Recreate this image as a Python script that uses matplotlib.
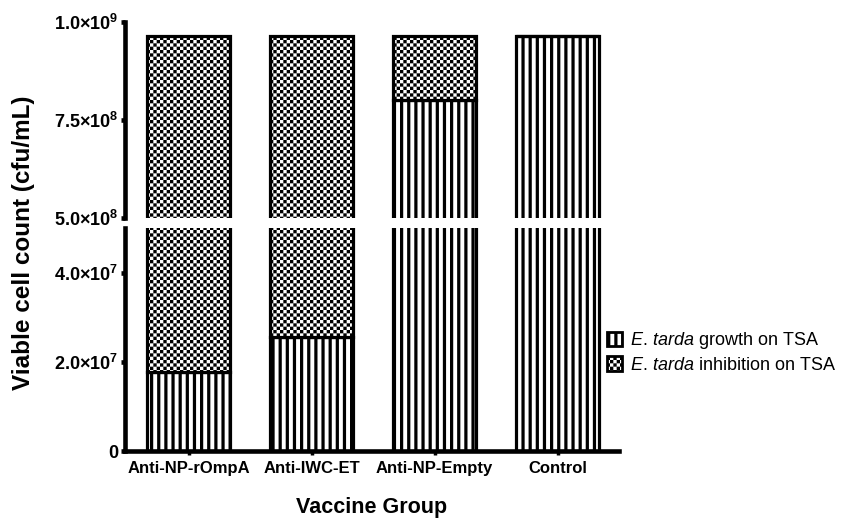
import numpy as np
import matplotlib
matplotlib.use("Agg")
import matplotlib.pyplot as plt
import matplotlib.hatch as mhatch
from matplotlib.path import Path
from matplotlib.patches import Patch

# ---------------- data ----------------
categories = ["Anti-NP-rOmpA", "Anti-IWC-ET", "Anti-NP-Empty", "Control"]
growth = [1.78e7, 2.56e7, 8.0e8, 9.65e8]          # E. tarda growth on TSA
total = [9.65e8, 9.65e8, 9.65e8, 9.65e8]           # stacked bar top
inhibition = [t - g for t, g in zip(total, growth)]  # E. tarda inhibition on TSA
upper_ticks = [5.0e8, 7.5e8, 1.0e9]
upper_labels = ["5.0×10$^{8}$", "7.5×10$^{8}$", "1.0×10$^{9}$"]
lower_ticks = [0, 2.0e7, 4.0e7]
lower_labels = ["0", "2.0×10$^{7}$", "4.0×10$^{7}$"]
series_labels = [r"$\it{E.\,tarda}$ growth on TSA", r"$\it{E.\,tarda}$ inhibition on TSA"]


# ---------------- custom filled hatches ----------------
class StripeHatch(mhatch.HatchPatternBase):
    n = 14
    frac = 0.45

    def __init__(self, hatch, density):
        self.count = hatch.count('|')
        self.num_vertices = 5 * self.n if self.count else 0

    def set_vertices_and_codes(self, vertices, codes):
        k = 0
        for i in range(self.n):
            x0 = i / self.n
            x1 = x0 + self.frac / self.n
            vertices[k:k + 5] = [(x0, -0.01), (x1, -0.01), (x1, 1.01), (x0, 1.01), (x0, -0.01)]
            codes[k:k + 5] = [Path.MOVETO, Path.LINETO, Path.LINETO, Path.LINETO, Path.CLOSEPOLY]
            k += 5


class CheckerHatch(mhatch.HatchPatternBase):
    n = 30

    def __init__(self, hatch, density):
        self.count = hatch.count('+')
        self.num_vertices = 5 * (self.n * self.n // 2) if self.count else 0

    def set_vertices_and_codes(self, vertices, codes):
        k = 0
        c = 1.0 / self.n
        for i in range(self.n):
            for j in range(self.n):
                if (i + j) % 2 == 0:
                    x0, y0 = i * c, j * c
                    vertices[k:k + 5] = [(x0, y0), (x0 + c, y0), (x0 + c, y0 + c), (x0, y0 + c), (x0, y0)]
                    codes[k:k + 5] = [Path.MOVETO, Path.LINETO, Path.LINETO, Path.LINETO, Path.CLOSEPOLY]
                    k += 5


mhatch._hatch_types = [StripeHatch, CheckerHatch]

plt.rcParams['font.family'] = ['Liberation Sans', 'DejaVu Sans']
plt.rcParams['mathtext.fontset'] = 'custom'
plt.rcParams['mathtext.rm'] = 'Liberation Sans'
plt.rcParams['mathtext.it'] = 'Liberation Sans:italic'
plt.rcParams['mathtext.bf'] = 'Liberation Sans:bold'
plt.rcParams['mathtext.default'] = 'regular'
plt.rcParams['hatch.linewidth'] = 0.0
plt.rcParams['hatch.color'] = 'black'

fig = plt.figure(figsize=(8.56, 5.19), dpi=100)
W, H = 856, 519
L, R = 125, 619
ax_top = fig.add_axes([L / W, 1 - 218 / H, (R - L) / W, (218 - 22) / H])
ax_bot = fig.add_axes([L / W, 1 - 451 / H, (R - L) / W, (451 - 228) / H])

x = np.arange(len(categories))
bw = 0.675
for ax in (ax_top, ax_bot):
    ax.bar(x, growth, bw, color='white', edgecolor='black', linewidth=2.3, hatch='|')
    ax.bar(x, inhibition, bw, bottom=growth, color='white', edgecolor='black', linewidth=2.3, hatch='+')
    ax.set_xlim(-0.52, 3.5)
    for s in ('top', 'right'):
        ax.spines[s].set_visible(False)
    ax.spines['left'].set_linewidth(3.3)
    ax.tick_params(axis='y', length=3, width=3.3, pad=2, labelsize=13)
    ax.tick_params(axis='x', length=3, width=2.5, pad=4, labelsize=12)

ax_top.set_ylim(5e8, 1e9)
ax_top.spines['bottom'].set_visible(False)
ax_top.set_xticks([])
ax_top.set_yticks(upper_ticks)
ax_top.set_yticklabels(upper_labels, fontweight='bold')

ax_bot.set_ylim(0, 5e7)
ax_bot.spines['bottom'].set_linewidth(3.3)
ax_bot.set_yticks(lower_ticks)
ax_bot.set_yticklabels(lower_labels, fontweight='bold')
ax_bot.set_xticks(x)
ax_bot.set_xticklabels(categories, fontweight='bold')

fig.text(372 / W, 1 - 507 / H, "Vaccine Group", ha='center', va='center',
         fontsize=15.5, fontweight='bold')
fig.text(24 / W, 1 - 243 / H, "Viable cell count (cfu/mL)", ha='center', va='center',
         rotation=90, fontsize=17.5, fontweight='bold')

handles = [Patch(facecolor='white', edgecolor='black', linewidth=2, hatch='|'),
           Patch(facecolor='white', edgecolor='black', linewidth=2, hatch='+')]
fig.legend(handles, series_labels, loc='upper left', bbox_to_anchor=(607 / W, 1 - 330 / H),
           frameon=False, fontsize=13, handlelength=0.85, handleheight=0.85,
           handletextpad=0.45, labelspacing=0.3, borderpad=0, borderaxespad=0)

fig.savefig("out.png", dpi=100)
